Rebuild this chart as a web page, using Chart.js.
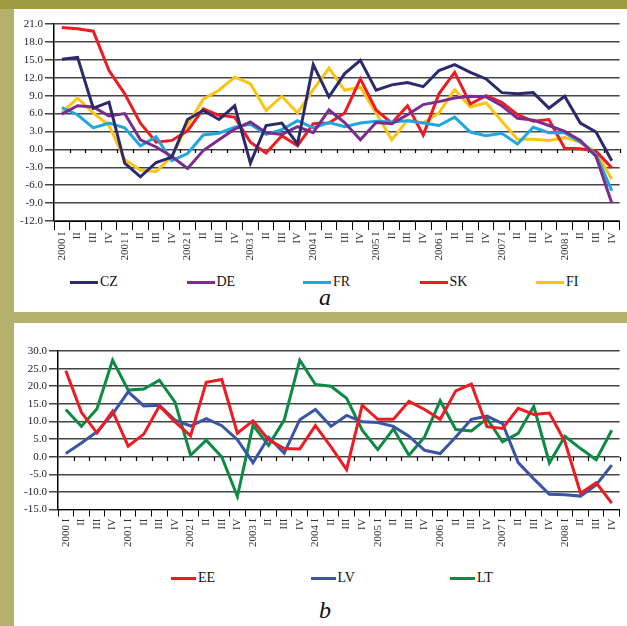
<!DOCTYPE html>
<html>
<head>
<meta charset="utf-8">
<script src="https://cdn.jsdelivr.net/npm/chart.js@4/dist/chart.umd.min.js"></script>
<style>
  html, body { margin: 0; padding: 0; background: #fff; }
  #page { position: relative; width: 627px; height: 626px; overflow: hidden; background: #fff;
          font-family: 'Liberation Serif', 'Times New Roman', serif; }
  .band { position: absolute; }
  .wrap { position: absolute; }
  .legend { position: absolute; display: flex; font-size: 14px; color: #111; }
  .legend .item { display: flex; align-items: center; }
  .legend .swatch { height: 3px; margin-right: 2px; }
  .caption { position: absolute; width: 40px; text-align: center; font-style: italic; font-size: 24px; color: #111; }
</style>
</head>
<body>
<div id="page">
  <div class="band" style="left:0;top:0;width:627px;height:9px;background:#9e9c42;"></div>
  <div class="band" style="left:0;top:9px;width:14px;height:617px;background:#b4b16d;"></div>
  <div class="band" style="left:0;top:312px;width:627px;height:11px;background:#b4b16d;"></div>

  <div class="wrap" style="left:14px;top:9px;width:613px;height:262px;"><canvas id="chartA" width="613" height="262"></canvas></div>
  <div class="legend" id="legendA" style="left:70px;top:274px;"></div>
  <div class="caption" style="left:305px;top:284px;">a</div>

  <div class="wrap" style="left:14px;top:323px;width:613px;height:232px;"><canvas id="chartB" width="613" height="232"></canvas></div>
  <div class="legend" id="legendB" style="left:171px;top:570px;"></div>
  <div class="caption" style="left:305px;top:597px;">b</div>
</div>

<script>
// Quarterly labels, 2000 I ... 2008 IV
const years = ['2000', '2001', '2002', '2003', '2004', '2005', '2006', '2007', '2008'];
const quarters = ['I', 'II', 'III', 'IV'];
const quarterLabels = [];
years.forEach(y => quarters.forEach((q, k) => quarterLabels.push(k === 0 ? y + ' ' + q : q)));

// Panel a
const CZ = [15.1, 15.4, 6.9, 7.9, -2.3, -4.6, -2.2, -1.3, 5.0, 6.5, 5.0, 7.3, -2.3, 4.0, 4.4, 0.9,
            14.2, 8.8, 12.7, 14.9, 9.9, 10.8, 11.2, 10.5, 13.2, 14.2, 12.9, 11.8, 9.5, 9.3, 9.5, 6.9,
            8.9, 4.4, 2.9, -1.9];
const DE = [5.9, 7.3, 7.1, 5.6, 6.0, 1.6, 0.4, -1.2, -3.2, -0.2, 1.6, 3.4, 4.6, 2.8, 2.5, 3.8,
            2.8, 6.6, 4.5, 1.6, 4.5, 4.3, 5.8, 7.5, 8.0, 8.6, 8.9, 8.8, 7.3, 5.2, 4.9, 4.0,
            3.0, 1.5, -1.2, -9.0];
const FR = [7.0, 5.8, 3.6, 4.4, 3.6, 0.6, 2.1, -1.9, -0.7, 2.4, 2.7, 3.7, 4.2, 2.5, 3.3, 4.8,
            3.6, 4.5, 3.8, 4.4, 4.7, 4.6, 4.8, 4.4, 4.0, 5.4, 2.9, 2.3, 2.7, 0.9, 3.7, 2.8,
            2.8, 1.2, -0.9, -6.9];
const SK = [20.4, 20.2, 19.8, 13.2, 9.3, 4.4, 1.2, 1.5, 3.1, 6.8, 5.7, 5.4, 1.2, -0.6, 2.3, 0.6,
            4.3, 4.4, 6.1, 11.8, 6.6, 4.4, 7.3, 2.4, 9.3, 12.9, 7.6, 9.0, 7.9, 5.8, 4.7, 5.0,
            0.2, 0.1, -0.3, -3.1];
const FI = [6.1, 8.6, 6.1, 4.0, -1.7, -3.5, -3.7, -1.2, 4.1, 8.4, 9.9, 12.1, 11.0, 6.5, 8.9, 6.1,
            10.0, 13.6, 9.9, 10.4, 6.1, 1.6, 4.9, 4.4, 6.1, 10.0, 7.1, 7.8, 4.7, 1.7, 1.7, 1.5,
            2.0, 1.2, -0.5, -5.0];

// Panel b
const EE = [24.4, 12.6, 6.7, 12.9, 3.0, 6.4, 14.4, 9.9, 5.9, 21.1, 21.9, 6.7, 10.2, 4.8, 2.3, 2.2,
            8.8, 2.8, -3.7, 14.6, 10.6, 10.6, 15.7, 13.4, 10.6, 18.7, 20.6, 8.5, 8.0, 13.7, 12.0, 12.4,
            4.2, -10.4, -7.4, -13.2];
const LV = [0.9, 3.9, 7.1, 12.1, 18.4, 14.4, 14.6, 10.4, 8.7, 10.8, 8.8, 4.8, -1.7, 5.5, 1.0, 10.5,
            13.4, 8.6, 11.7, 9.9, 9.7, 8.6, 5.8, 1.8, 0.9, 5.6, 10.6, 11.5, 9.4, -1.7, -6.3, -10.7,
            -10.8, -11.2, -8.0, -2.4];
const LT = [13.4, 8.6, 13.6, 27.4, 18.9, 19.2, 21.7, 15.5, 0.4, 4.7, -0.1, -11.3, 8.9, 3.2, 10.4, 27.4,
            20.5, 20.0, 16.6, 7.5, 2.0, 7.9, 0.4, 5.6, 15.9, 7.7, 7.3, 10.8, 4.2, 6.6, 14.3, -1.8,
            5.8, 2.3, -0.9, 7.5];

const seriesA = [
  { name: 'CZ', data: CZ, color: '#2b2a6e' },
  { name: 'DE', data: DE, color: '#7b2d8d' },
  { name: 'FR', data: FR, color: '#1ea7e1' },
  { name: 'SK', data: SK, color: '#ed1c24' },
  { name: 'FI', data: FI, color: '#fdc311' }
];
const seriesB = [
  { name: 'EE', data: EE, color: '#ed1c24' },
  { name: 'LV', data: LV, color: '#3b55a6' },
  { name: 'LT', data: LT, color: '#0d8a43' }
];

const FONT = "'Liberation Serif', 'Times New Roman', serif";

// Short tick marks along the zero line, at every category boundary
const zeroTicks = {
  id: 'zeroTicks',
  beforeDatasetsDraw(chart, args, opts) {
    const xs = chart.scales.x, ys = chart.scales.y;
    const n = chart.data.labels.length;
    const step = xs.width / n;
    const y0 = Math.round(ys.getPixelForValue(0));
    const ctx = chart.ctx;
    ctx.save();
    ctx.strokeStyle = '#000';
    ctx.lineWidth = 1.2;
    ctx.beginPath();
    for (let i = 1; i <= n; i++) {
      const px = Math.round(xs.left + i * step) + 0.5;
      ctx.moveTo(px, y0);
      ctx.lineTo(px, y0 + opts.len);
    }
    ctx.stroke();
    ctx.restore();
  }
};

function makeChart(id, series, yMin, yMax, yStep, geo) {
  return new Chart(document.getElementById(id), {
    type: 'line',
    data: {
      labels: quarterLabels,
      datasets: series.map(s => ({
        label: s.name,
        data: s.data,
        borderColor: s.color,
        backgroundColor: s.color,
        borderWidth: 3,
        pointRadius: 0,
        tension: 0,
        fill: false
      }))
    },
    options: {
      responsive: false,
      animation: false,
      layout: { padding: { top: geo.top, right: 2, left: 0, bottom: 0 } },
      plugins: {
        legend: { display: false },
        tooltip: { enabled: false },
        zeroTicks: { len: 4 }
      },
      scales: {
        x: {
          offset: true,
          grid: { display: true, drawOnChartArea: false, drawTicks: true, tickLength: geo.xTick,
                  color: '#000', lineWidth: 1, offset: true },
          border: { display: true, color: '#000', width: 1 },
          ticks: { autoSkip: false, minRotation: 90, maxRotation: 90, padding: 2,
                   color: '#333', font: { family: FONT, size: 11 } },
          afterFit: s => { s.height = geo.xHeight; }
        },
        y: {
          min: yMin, max: yMax,
          grid: { color: '#444', lineWidth: 1.5, tickLength: 9, drawTicks: true },
          border: { display: true, color: '#000', width: 1.5 },
          ticks: { stepSize: yStep, padding: 2, color: '#222',
                   font: { family: FONT, size: 11 },
                   callback: v => Number(v).toFixed(1) },
          afterFit: s => { s.width = geo.yWidth; }
        }
      }
    },
    plugins: [zeroTicks]
  });
}

makeChart('chartA', seriesA, -12, 21, 3, { top: 15, xHeight: 50, yWidth: 40, xTick: 9 });
makeChart('chartB', seriesB, -15, 30, 5, { top: 28, xHeight: 45.5, yWidth: 44, xTick: 7 });

// Legends built from the series definitions
function buildLegend(id, series, itemWidth, swatchWidth) {
  const box = document.getElementById(id);
  series.forEach(s => {
    const item = document.createElement('div');
    item.className = 'item';
    item.style.width = itemWidth + 'px';
    const sw = document.createElement('div');
    sw.className = 'swatch';
    sw.style.width = swatchWidth + 'px';
    sw.style.background = s.color;
    const tx = document.createElement('span');
    tx.textContent = s.name;
    item.appendChild(sw);
    item.appendChild(tx);
    box.appendChild(item);
  });
}
buildLegend('legendA', seriesA, 116.5, 28);
buildLegend('legendB', seriesB, 139.5, 25);
</script>
</body>
</html>
